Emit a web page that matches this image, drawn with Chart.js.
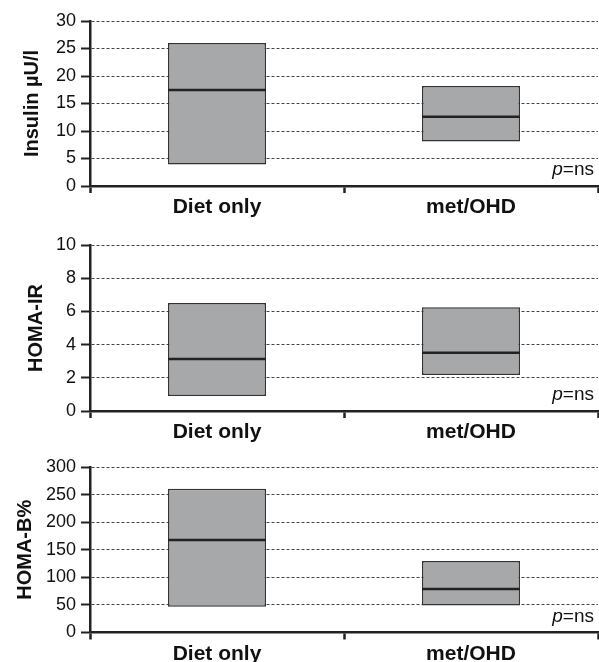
<!DOCTYPE html>
<html>
<head>
<meta charset="utf-8">
<script src="https://cdn.jsdelivr.net/npm/chart.js@4/dist/chart.umd.min.js"></script>
<style>
  html, body { margin: 0; padding: 0; background: #fff; }
  canvas { display: block; }
</style>
</head>
<body>
<div style="width:599px;height:222px"><canvas id="c1"></canvas></div>
<div style="width:599px;height:228px"><canvas id="c2"></canvas></div>
<div style="width:599px;height:212px"><canvas id="c3"></canvas></div>
<script>
const categories = ["Diet only", "met/OHD"];

// min..max range and median per group
const insulinRange = [[3.9, 26.0], [8.1, 18.2]];
const insulinMedian = [17.45, 12.6];
const homaIrRange = [[0.9, 6.5], [2.17, 6.25]];
const homaIrMedian = [3.13, 3.51];
const homaBRange = [[46.6, 260.7], [49, 129.5]];
const homaBMedian = [167.6, 78.7];

const yTitles = ["Insulin µU/l", "HOMA-IR", "HOMA-B%"];
const yMax = [30, 10, 300];
const yStep = [5, 2, 50];
const pLabel = "ns";

const FONT = "'Liberation Sans', Arial, Helvetica, sans-serif";
Chart.defaults.font.family = FONT;
Chart.defaults.color = "#111";

// small "p=ns" note in the bottom right corner of each panel
const pNote = {
    id: "pNote",
    afterDraw(chart) {
        const ctx = chart.ctx;
        const area = chart.chartArea;
        const y = area.bottom - 11;
        ctx.save();
        ctx.fillStyle = "#111";
        ctx.textBaseline = "alphabetic";
        ctx.font = "19px " + FONT;
        const rest = "=" + pLabel;
        const wRest = ctx.measureText(rest).width;
        const xEnd = area.right - 4;
        ctx.textAlign = "left";
        ctx.fillText(rest, xEnd - wRest, y);
        ctx.font = "italic 19px " + FONT;
        const wp = ctx.measureText("p").width;
        ctx.fillText("p", xEnd - wRest - wp, y);
        ctx.restore();
    }
};

function makePanel(id, i, ranges, medians, padLeft, padTop, xHeight) {
    new Chart(document.getElementById(id), {
        type: "bar",
        data: {
            labels: categories,
            datasets: [{
                type: "line",
                data: medians,
                showLine: false,
                pointStyle: "line",
                pointRadius: 49,
                pointHoverRadius: 49,
                pointBorderWidth: 2.5,
                pointBorderColor: "#222",
                clip: false,
                order: 1
            }, {
                data: ranges,
                backgroundColor: "#a7a8aa",
                borderColor: "#333",
                borderWidth: 1.5,
                borderSkipped: false,
                barPercentage: 0.386,
                categoryPercentage: 1,
                order: 2
            }]
        },
        options: {
            responsive: true,
            maintainAspectRatio: false,
            animation: false,
            layout: { autoPadding: false, padding: { left: padLeft, top: padTop, right: 1, bottom: 0 } },
            plugins: { legend: { display: false }, tooltip: { enabled: false } },
            scales: {
                x: {
                    offset: true,
                    grid: {
                        offset: true,
                        drawOnChartArea: false,
                        drawTicks: true,
                        tickLength: 7,
                        tickColor: "#222",
                        tickWidth: 2.5
                    },
                    border: { color: "#222", width: 2.5 },
                    ticks: {
                        padding: 2,
                        color: "#111",
                        font: { size: 21, weight: "bold" }
                    },
                    afterFit(scale) { scale.height = xHeight; }
                },
                y: {
                    min: 0,
                    max: yMax[i],
                    grid: {
                        color: "#444",
                        lineWidth: 1,
                        tickLength: 9,
                        tickColor: "#222",
                        tickWidth: 2,
                        tickBorderDash: []
                    },
                    border: { color: "#222", width: 2.5, dash: [3, 2] },
                    ticks: {
                        stepSize: yStep[i],
                        autoSkip: false,
                        padding: 5,
                        color: "#111",
                        font: { size: 18 }
                    },
                    title: {
                        display: true,
                        text: yTitles[i],
                        color: "#111",
                        padding: 0,
                        font: { size: 20, weight: "bold" }
                    },
                    afterFit(scale) { scale.width = 90 - padLeft; }
                }
            }
        },
        plugins: [pNote]
    });
}

makePanel("c1", 0, insulinRange, insulinMedian, 20, 21, 36);
makePanel("c2", 1, homaIrRange, homaIrMedian, 24, 23, 39);
makePanel("c3", 2, homaBRange, homaBMedian, 13, 17, 29.5);
</script>
</body>
</html>
